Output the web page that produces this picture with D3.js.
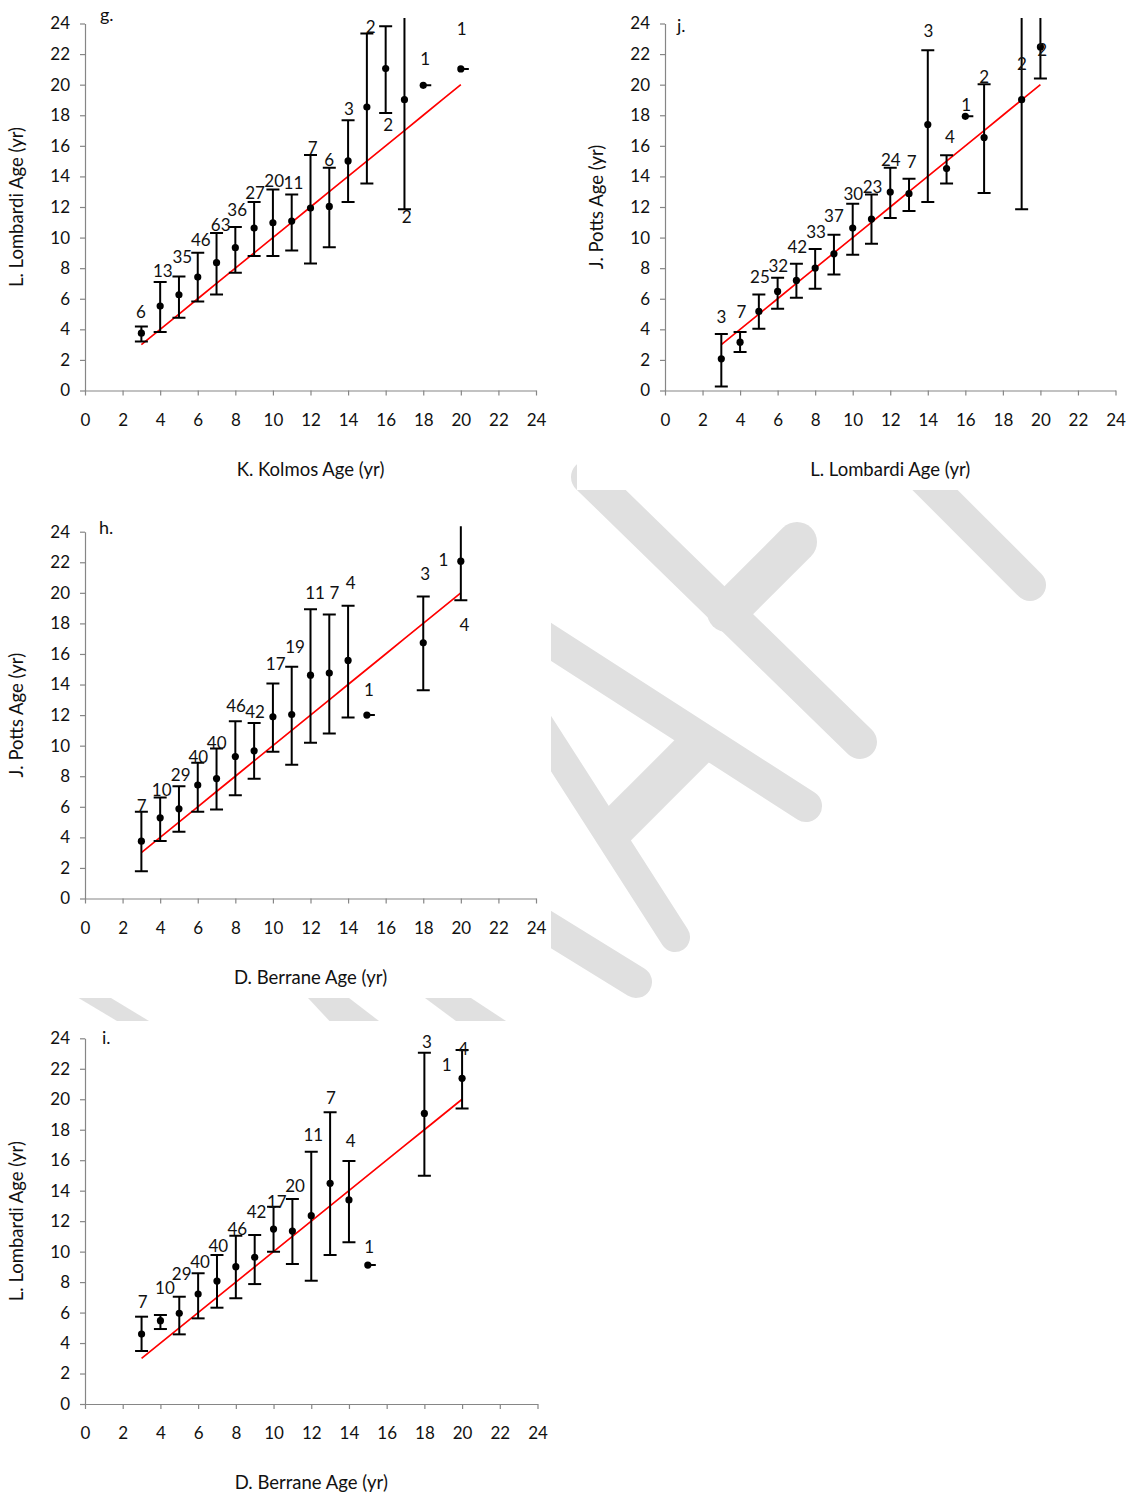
<!DOCTYPE html>
<html><head><meta charset="utf-8">
<script src="https://cdn.jsdelivr.net/npm/d3@7"></script>
<style>
body{margin:0;background:#fff}
svg{display:block}
text{font-family:Lato,"Open Sans",sans-serif}
</style>
</head><body>
<svg id="c" width="1129" height="1497"></svg>
<script>
// ---------- data ----------
const tickValues = [0,2,4,6,8,10,12,14,16,18,20,22,24];
const tickLabels = ["0","2","4","6","8","10","12","14","16","18","20","22","24"];

const refX = [3,4,5,6,7,8,9,10,11,12,13,14,15,16,17,18,19,20];
const refY = [3,4,5,6,7,8,9,10,11,12,13,14,15,16,17,18,19,20];

// g. K. Kolmos vs L. Lombardi
const gX    = [3,4,5,6,7,8,9,10,11,12,13,14,15,16,17,18,20];
const gMean = [3.75,5.52,6.26,7.42,8.36,9.34,10.62,10.97,11.08,11.93,12.04,15.01,18.54,21.05,19.02,19.96,21.03];
const gLow  = [3.20,3.82,4.76,5.82,6.28,7.70,8.79,8.79,9.16,8.31,9.36,12.32,13.53,18.15,11.85,null,null];
const gHigh = [4.19,7.09,7.46,9.01,10.30,10.69,12.32,13.15,12.81,15.40,14.57,17.67,23.34,23.82,26.19,null,null];
const gN    = ["6","13","35","46","63","36","27","20","11","7","6","3","2","2","2","1","1"];
const gLabelX = [2.98,4.14,5.18,6.16,7.22,8.10,9.05,10.07,11.09,12.12,13.0,14.05,15.2,16.14,17.12,18.1,20.05];
const gLabelY = [5.12,7.85,8.72,9.82,10.8,11.78,12.9,13.74,13.57,15.88,15.05,18.44,23.78,17.34,11.34,21.7,23.67];

// j. L. Lombardi vs J. Potts
const jX    = [3,4,5,6,7,8,9,10,11,12,13,14,15,16,17,19,20];
const jMean = [2.07,3.16,5.17,6.48,7.20,8.01,8.94,10.62,11.21,12.98,12.87,17.39,14.51,17.93,16.54,19.02,22.47];
const jLow  = [0.26,2.51,4.04,5.34,6.07,6.65,7.59,8.88,9.60,11.28,11.74,12.32,13.53,null,12.91,11.85,20.40];
const jHigh = [3.69,3.82,6.28,7.37,8.29,9.25,10.19,12.22,12.81,14.57,13.85,22.25,15.38,null,20.03,26.19,24.54];
const jN    = ["3","7","25","32","42","33","37","30","23","24","7","3","4","1","2","2","2"];
const jLabelX = [3.0,4.07,5.06,6.04,7.05,8.05,9.0,10.03,11.06,12.03,13.14,14.03,15.18,16.04,17.0,19.02,20.1];
const jLabelY = [4.84,5.13,7.46,8.18,9.38,10.36,11.41,12.87,13.31,15.05,14.94,23.51,16.58,18.7,20.5,21.38,22.25];

// h. D. Berrane vs J. Potts
const hX    = [3,4,5,6,7,8,9,10,11,12,13,14,15,18,20];
const hMean = [3.75,5.28,5.87,7.42,7.85,9.29,9.66,11.89,12.04,14.61,14.75,15.58,12.0,16.73,22.07];
const hLow  = [1.79,3.77,4.36,5.67,5.82,6.76,7.83,9.60,8.75,10.19,10.80,11.85,null,13.63,19.52];
const hHigh = [5.67,6.61,7.35,8.88,9.82,11.60,11.49,14.07,15.16,18.93,18.59,19.15,null,19.76,24.62];
const hN    = ["7","10","29","40","40","46","42","17","19","11","7","4","1","3","4"];
const hLabelX = [3.02,4.08,5.09,6.03,7.01,8.04,9.05,10.15,11.18,12.24,13.27,14.14,15.11,18.1,20.19];
const hLabelY = [6.04,7.13,8.07,9.27,10.15,12.58,12.21,15.38,16.47,20.0,20.0,20.67,13.68,21.27,17.93];
const hExtraText = ["1"], hExtraX = [19.07], hExtraY = [22.15];

// i. D. Berrane vs L. Lombardi
const iX    = [3,4,5,6,7,8,9,10,11,12,13,14,15,18,20];
const iMean = [4.59,5.47,5.95,7.22,8.07,9.01,9.63,11.48,11.35,12.36,14.48,13.39,9.12,19.07,21.37];
const iLow  = [3.48,4.92,4.57,5.62,6.32,6.94,7.87,9.99,9.19,8.09,9.78,10.61,null,14.98,19.40];
const iHigh = [5.73,5.84,7.04,8.58,9.78,11.04,11.09,12.95,13.45,16.56,19.14,15.94,null,23.05,23.23];
const iN    = ["7","10","29","40","40","46","42","17","20","11","7","4","1","3","4"];
const iLabelX = [3.06,4.24,5.13,6.10,7.07,8.08,9.10,10.17,11.14,12.11,13.05,14.09,15.07,18.13,20.07];
const iLabelY = [6.71,7.59,8.51,9.30,10.39,11.48,12.58,13.27,14.32,17.69,20.06,17.28,10.28,23.76,23.29];
const iExtraText = ["1"], iExtraX = [19.19], iExtraY = [22.24];

// ---------- layout / decoration ----------
const panels = [
  {id:"g", letter:"g.", xTitle:"K. Kolmos Age (yr)", yTitle:"L. Lombardi Age (yr)",
   X:gX, M:gMean, L:gLow, H:gHigh, N:gN, LX:gLabelX, LY:gLabelY, EX:[], EY:[], ET:[],
   px:[85,536], py:[390.5,23.5], letterPos:[100,21]},
  {id:"j", letter:"j.", xTitle:"L. Lombardi Age (yr)", yTitle:"J. Potts Age (yr)",
   X:jX, M:jMean, L:jLow, H:jHigh, N:jN, LX:jLabelX, LY:jLabelY, EX:[], EY:[], ET:[],
   px:[665,1115.5], py:[390.5,23.5], letterPos:[677,32]},
  {id:"h", letter:"h.", xTitle:"D. Berrane Age (yr)", yTitle:"J. Potts Age (yr)",
   X:hX, M:hMean, L:hLow, H:hHigh, N:hN, LX:hLabelX, LY:hLabelY, EX:hExtraX, EY:hExtraY, ET:hExtraText,
   px:[85,536], py:[898.5,531.7], letterPos:[99,534]},
  {id:"i", letter:"i.", xTitle:"D. Berrane Age (yr)", yTitle:"L. Lombardi Age (yr)",
   X:iX, M:iMean, L:iLow, H:iHigh, N:iN, LX:iLabelX, LY:iLabelY, EX:iExtraX, EY:iExtraY, ET:iExtraText,
   px:[85,537.5], py:[1404,1038.3], letterPos:[102,1044]}
];

const WM_COLOR = "#e0e0e0";
const WM_STROKES = [
  {x1:588,y1:477,x2:860,y2:742,w:34,cap:"round"},
  {x1:727,y1:612,x2:797,y2:542,w:40,cap:"round"},
  {x1:890,y1:445,x2:1030,y2:585,w:32,cap:"round"},
  {x1:500,y1:609,x2:806,y2:806,w:32,cap:"round"},
  {x1:500,y1:664,x2:675,y2:937,w:30,cap:"round"},
  {x1:615,y1:828,x2:698,y2:745,w:40,cap:"butt"},
  {x1:500,y1:898,x2:636,y2:982,w:32,cap:"round"}
];
const WM_POLYS = [
  [[78.5,998],[111,998],[149,1021],[117,1021]],
  [[308,998],[349,998],[379,1021],[329.5,1021]],
  [[425,998],[471,998],[506,1021],[456,1021]]
];
const BOXES = [[0,0,568,490],[577,0,552,490],[0,490,551,508],[0,1021,551,476]];

const FONT = 'Lato, "Open Sans", sans-serif';
const svg = d3.select("#c");

// watermark
const wm = svg.append("g");
WM_STROKES.forEach(s => wm.append("line")
  .attr("x1",s.x1).attr("y1",s.y1).attr("x2",s.x2).attr("y2",s.y2)
  .attr("stroke",WM_COLOR).attr("stroke-width",s.w).attr("stroke-linecap",s.cap));
WM_POLYS.forEach(p => wm.append("polygon")
  .attr("points",p.map(q=>q.join(",")).join(" ")).attr("fill",WM_COLOR));
BOXES.forEach(b => svg.append("rect").attr("x",b[0]).attr("y",b[1])
  .attr("width",b[2]).attr("height",b[3]).attr("fill","#fff"));

panels.forEach(p => {
  const x = d3.scaleLinear().domain([0,24]).range(p.px);
  const y = d3.scaleLinear().domain([0,24]).range(p.py);
  const g = svg.append("g");

  const ya = g.append("g").attr("transform",`translate(${p.px[0]},0)`)
    .call(d3.axisLeft(y).tickValues(tickValues).tickFormat((d,i)=>tickLabels[i])
      .tickSize(5).tickSizeOuter(0).tickPadding(10));
  const xa = g.append("g").attr("transform",`translate(0,${p.py[0]})`)
    .call(d3.axisBottom(x).tickValues(tickValues).tickFormat((d,i)=>tickLabels[i])
      .tickSize(5).tickSizeOuter(0).tickPadding(18));
  [ya,xa].forEach(a => {
    a.select(".domain").attr("stroke","#868686").attr("stroke-width",1.2);
    a.selectAll(".tick line").attr("stroke","#868686").attr("stroke-width",1.2);
    a.selectAll(".tick text").attr("fill","#111").attr("font-size",17).attr("font-family",FONT);
  });

  // titles
  g.append("text").attr("x",(p.px[0]+p.px[1])/2).attr("y",p.py[0]+85)
    .attr("text-anchor","middle").attr("font-size",18.5).attr("fill","#111").text(p.xTitle);
  const yc = (p.py[0]+p.py[1])/2;
  g.append("text").attr("transform",`translate(${p.px[0]-62},${yc}) rotate(-90)`)
    .attr("text-anchor","middle").attr("font-size",18.5).attr("fill","#111").text(p.yTitle);
  g.append("text").attr("x",p.letterPos[0]).attr("y",p.letterPos[1])
    .attr("font-size",18).attr("fill","#111").text(p.letter);

  // clip
  const cid = "clip-"+p.id;
  svg.append("clipPath").attr("id",cid).append("rect")
    .attr("x",p.px[0]).attr("y",p.py[1]-5.5)
    .attr("width",p.px[1]-p.px[0]).attr("height",p.py[0]-p.py[1]+5.5);
  const pl = g.append("g").attr("clip-path",`url(#${cid})`);

  // reference line
  pl.append("path").datum(refX.map((v,i)=>[v,refY[i]]))
    .attr("d",d3.line().x(d=>x(d[0])).y(d=>y(d[1])))
    .attr("fill","none").attr("stroke","#ff0000").attr("stroke-width",1.7);

  const idx = p.X.map((v,i)=>i);
  const cap = 6.5;
  idx.forEach(i => {
    const cx = x(p.X[i]);
    if (p.L[i] !== null) {
      pl.append("line").attr("x1",cx).attr("x2",cx).attr("y1",y(p.L[i])).attr("y2",y(p.H[i]))
        .attr("stroke","#000").attr("stroke-width",2);
      [p.L[i],p.H[i]].forEach(v => pl.append("line")
        .attr("x1",cx-cap).attr("x2",cx+cap).attr("y1",y(v)).attr("y2",y(v))
        .attr("stroke","#000").attr("stroke-width",2));
    } else {
      pl.append("line").attr("x1",cx-2).attr("x2",cx+8).attr("y1",y(p.M[i])).attr("y2",y(p.M[i]))
        .attr("stroke","#000").attr("stroke-width",2);
    }
    pl.append("circle").attr("cx",cx).attr("cy",y(p.M[i])).attr("r",3.6).attr("fill","#000");
  });

  // n labels
  g.selectAll("text.n").data(idx).enter().append("text").attr("class","n")
    .attr("x",i=>x(p.LX[i])).attr("y",i=>y(p.LY[i])).attr("dy","0.36em")
    .attr("text-anchor","middle").attr("font-size",17).attr("fill","#111")
    .text(i=>p.N[i]);
  p.ET.forEach((t,k) => g.append("text").attr("x",x(p.EX[k])).attr("y",y(p.EY[k]))
    .attr("dy","0.36em").attr("text-anchor","middle").attr("font-size",17).attr("fill","#111").text(t));
});
</script>
</body></html>
